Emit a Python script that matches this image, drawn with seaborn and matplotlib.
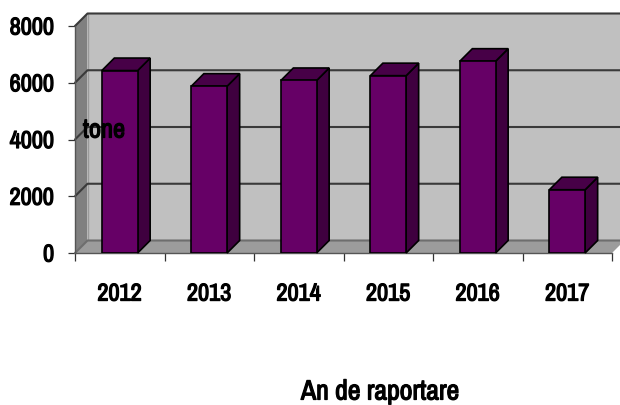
import matplotlib
matplotlib.use("Agg")
import matplotlib.pyplot as plt
from matplotlib.patches import Polygon
import matplotlib.patheffects as pe
import seaborn as sns
import pandas as pd

years = ["2012", "2013", "2014", "2015", "2016", "2017"]
tons = [6430, 5880, 6080, 6250, 6760, 2230]
y_ticks = [0, 2000, 4000, 6000, 8000]
x_label = "An de raportare"
y_label = "tone"

sns.set_style("white")
plt.rcParams["font.family"] = ["Archivo Narrow", "Liberation Sans", "DejaVu Sans"]
plt.rcParams["font.weight"] = "bold"

W, H = 620, 405
L, R, T, B = 75, 612, 26, 253
fig = plt.figure(figsize=(W / 100, H / 100), dpi=100, facecolor="white")
ax = fig.add_axes([L / W, 1 - B / H, (R - L) / W, (B - T) / H])
ax.patch.set_visible(False)

df = pd.DataFrame({"year": years, "tons": tons})
sns.barplot(data=df, x="year", y="tons", ax=ax, color="#660066", saturation=1,
            width=0.4, edgecolor="black", linewidth=1.2, zorder=5)
bars = list(ax.patches)

ax.set_xlim(-0.5, len(years) - 0.5)
ax.set_ylim(0, max(y_ticks))

# depth of the 3D box, in data units
dx = 12.5 / ((R - L) / len(years))
dy = 12.5 / ((B - T) / max(y_ticks))
x0, x1 = ax.get_xlim()
ytop = max(y_ticks)


def poly(pts, fc, ec="none", lw=0, z=1):
    ax.add_patch(Polygon(pts, closed=True, facecolor=fc, edgecolor=ec, linewidth=lw,
                         zorder=z, clip_on=False))


line_col = "#3a3a3a"
poly([(x0 + dx, dy), (x1 + dx, dy), (x1 + dx, ytop + dy), (x0 + dx, ytop + dy)], "#c0c0c0", z=1)
poly([(x0, 0), (x0 + dx, dy), (x0 + dx, ytop + dy), (x0, ytop)], "#808080", z=1)
poly([(x0, 0), (x1, 0), (x1 + dx, dy), (x0 + dx, dy)], "#9c9c9c", z=1)

ax.plot([x0 + dx, x0 + dx], [dy, ytop + dy], color="#9a9a9a", lw=1, zorder=2, clip_on=False)
for v in y_ticks:
    col = "#6e6e6e" if v == 0 else line_col
    ax.plot([x0, x0 + dx, x1 + dx], [v, v + dy, v + dy], color=col, lw=1.5,
            zorder=2, clip_on=False)

for bar in bars:
    xa, xb = bar.get_x(), bar.get_x() + bar.get_width()
    h = bar.get_height()
    poly([(xb, 0), (xb + dx, dy), (xb + dx, h + dy), (xb, h)], "#3f003f", "black", 1.2, 4)
    poly([(xa, h), (xb, h), (xb + dx, h + dy), (xa + dx, h + dy)], "#470047", "black", 1.2, 4)

ax.set_xticks([i - 0.5 for i in range(len(years) + 1)])
ax.set_xticklabels([""] * (len(years) + 1))
ax.set_xticks(range(len(years)), minor=True)
ax.set_xticklabels(years, minor=True, fontsize=17.5, fontweight="bold", color="black")
ax.tick_params(axis="x", which="major", length=5.8, width=0.9, color="#333333", bottom=True)
ax.tick_params(axis="x", which="minor", length=0, pad=22, bottom=False)
ax.set_yticks(y_ticks)
ax.set_yticklabels([str(v) for v in y_ticks], fontsize=17.5, fontweight="bold", color="black")
ax.tick_params(axis="y", length=5, width=0.9, color="#333333", left=True, pad=10)
ax.set_xlabel("")
ax.set_ylabel("")

for s in ["top", "right"]:
    ax.spines[s].set_visible(False)
for s in ["left", "bottom"]:
    ax.spines[s].set_color("#555555")
    ax.spines[s].set_linewidth(1.0)
    ax.spines[s].set_zorder(3)

t1 = ax.text(104 / W, 1 - 130 / H, y_label, transform=fig.transFigure, ha="center", va="center",
             fontsize=19, fontweight="bold", color="black", zorder=10)
t2 = ax.text(380 / W, 1 - 392 / H, x_label, transform=fig.transFigure, ha="center", va="center",
             fontsize=20, fontweight="bold", color="black", zorder=10)

# the narrow family has no bold face here, so thicken its strokes
heavy = [pe.withStroke(linewidth=0.9, foreground="black")]
for t in [t1, t2] + ax.get_yticklabels() + ax.get_xticklabels(minor=True):
    t.set_path_effects(heavy)

fig.savefig("out.png", dpi=100, facecolor="white")
